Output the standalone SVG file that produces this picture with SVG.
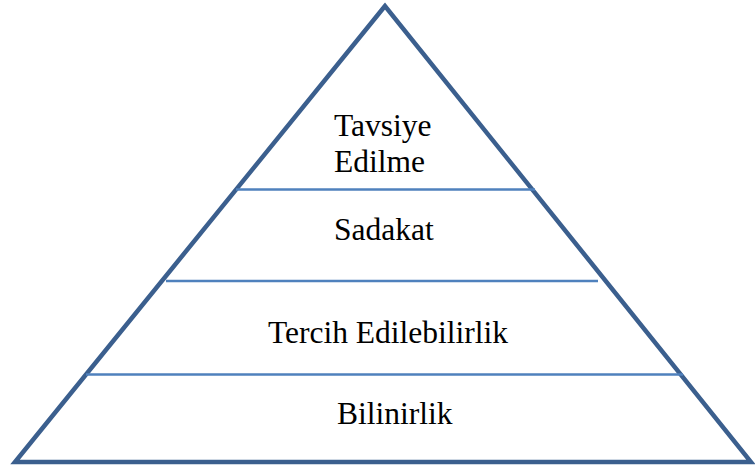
<svg xmlns="http://www.w3.org/2000/svg" width="755" height="472" viewBox="0 0 755 472">
<style>
.tri{fill:#fff;stroke:#3b5f8e;stroke-width:4.5;stroke-linejoin:miter}
.div{stroke:#4f81bd;stroke-width:2.5}
.t{font-family:"Liberation Serif","Times New Roman",serif;font-size:31.5px;fill:#000}
</style>
<rect width="755" height="472" fill="#fff"/>
<g id="pyramid"><polygon class="tri" points="385,6 15,462 751,462"/></g>
<g id="connectors">
<line class="div" x1="236" y1="189.5" x2="535" y2="189.5"/>
<line class="div" x1="166" y1="281" x2="598" y2="281"/>
<line class="div" x1="86" y1="374.5" x2="683" y2="374.5"/>
</g>
<g id="level4"><text class="t" x="334" y="136">Tavsiye</text><text class="t" x="334" y="172">Edilme</text></g>
<g id="level3"><text class="t" x="334" y="240">Sadakat</text></g>
<g id="level2"><text class="t" x="268" y="343">Tercih Edilebilirlik</text></g>
<g id="level1"><text class="t" x="337" y="424">Bilinirlik</text></g>
</svg>
